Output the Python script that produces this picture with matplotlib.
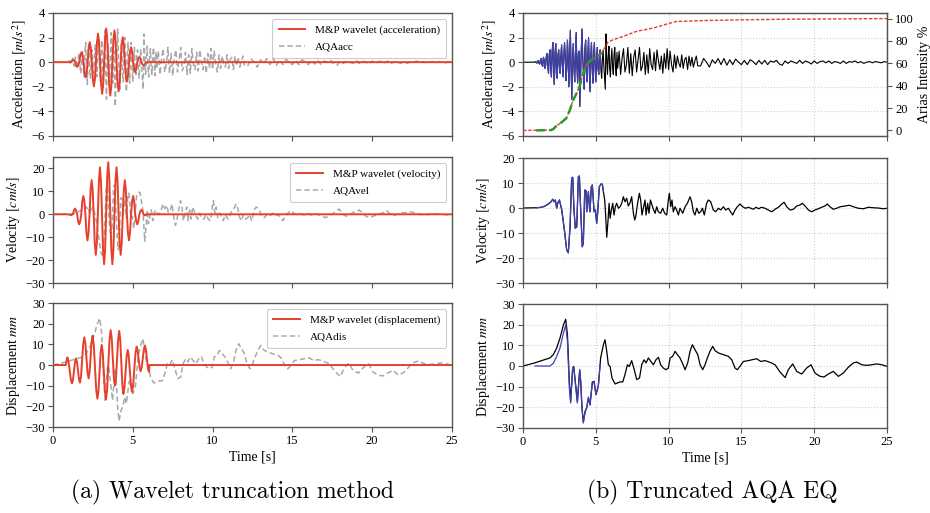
import matplotlib
matplotlib.use('Agg')
import matplotlib.pyplot as plt
import numpy as np

plt.rcParams['font.family'] = ['Liberation Serif', 'DejaVu Serif']
plt.rcParams['mathtext.fontset'] = 'stix'
plt.rcParams['font.size'] = 9
plt.rcParams['axes.unicode_minus'] = True

# ---------------- M&P wavelet ----------------
wav_acc_t = [0, 1.05, 1.14, 1.205, 1.27, 1.33, 1.39, 1.45, 1.51, 1.575, 1.645, 1.71, 1.78, 1.845, 1.91,
             1.975, 2.04, 2.105, 2.17, 2.235, 2.30, 2.365, 2.43, 2.495, 2.56, 2.625, 2.69, 2.755, 2.82,
             2.885, 2.95, 3.015, 3.08, 3.14, 3.205, 3.27, 3.33, 3.395, 3.46, 3.525, 3.59, 3.655, 3.72,
             3.785, 3.85, 3.915, 3.98, 4.045, 4.11, 4.175, 4.24, 4.305, 4.37, 4.435, 4.50, 4.565, 4.63,
             4.695, 4.76, 4.825, 4.89, 4.955, 5.02, 5.085, 5.15, 5.215, 5.28, 5.345, 5.41, 5.475, 5.54,
             5.605, 5.67, 5.75, 5.85, 25]
wav_acc = [0, 0, 0, 0.13, 0.19, 0.13, 0, -0.27, -0.38, -0.27, 0, 0.57, 0.81, 0.57, 0, -0.86, -1.22,
           -0.86, 0, 1.15, 1.63, 1.15, 0, -1.39, -1.97, -1.39, 0, 1.64, 2.32, 1.64, 0, -1.82, -2.57,
           -1.82, 0, 1.94, 2.74, 1.94, 0, -1.92, -2.71, -1.92, 0, 1.82, 2.58, 1.82, 0, -1.68, -2.37,
           -1.68, 0, 1.44, 2.03, 1.44, 0, -1.12, -1.58, -1.12, 0, 0.86, 1.22, 0.86, 0, -0.57, -0.81,
           -0.57, 0, 0.28, 0.40, 0.28, 0, -0.18, -0.26, -0.15, 0, 0]

wav_vel_t = [0, 0.95, 1.05, 1.12, 1.185, 1.25, 1.315, 1.38, 1.445, 1.51, 1.575, 1.64, 1.705, 1.77, 1.835,
             1.90, 1.965, 2.03, 2.095, 2.16, 2.225, 2.29, 2.355, 2.42, 2.485, 2.55, 2.615, 2.68, 2.745,
             2.81, 2.875, 2.94, 3.005, 3.07, 3.135, 3.20, 3.265, 3.33, 3.395, 3.46, 3.525, 3.59, 3.655,
             3.72, 3.785, 3.85, 3.915, 3.98, 4.045, 4.11, 4.175, 4.24, 4.305, 4.37, 4.435, 4.50, 4.565,
             4.63, 4.695, 4.76, 4.825, 4.89, 4.955, 5.02, 5.085, 5.15, 5.215, 5.28, 5.345, 5.41, 5.475,
             5.54, 5.605, 5.67, 5.73, 5.78, 5.85, 25]
wav_vel = [0, 0, -0.2, -0.4, -0.2, 0, 1.8, 2.5, 1.8, 0, -3.1, -4.4, -3.1, 0, 5.7, 8.0, 5.7, 0, -8.1,
           -11.4, -8.1, 0, 10.5, 14.9, 10.5, 0, -12.5, -17.7, -12.5, 0, 14.5, 20.5, 14.5, 0, -15.4,
           -21.8, -15.4, 0, 16.1, 22.7, 16.1, 0, -15.4, -21.8, -15.4, 0, 14.5, 20.5, 14.5, 0, -12.5,
           -17.7, -12.5, 0, 10.5, 14.9, 10.5, 0, -8.1, -11.4, -8.1, 0, 5.7, 8.0, 5.7, 0, -3.1, -4.4,
           -3.1, 0, 1.4, 2.0, 1.4, 0, -0.4, -0.5, 0, 0]

wav_dis_t = [0, 0.80, 0.85, 0.90, 0.97, 1.045, 1.118, 1.19, 1.253, 1.315, 1.378, 1.44, 1.503, 1.565,
             1.628, 1.69, 1.758, 1.825, 1.893, 1.96, 2.028, 2.095, 2.163, 2.23, 2.293, 2.355, 2.418,
             2.48, 2.555, 2.63, 2.705, 2.78, 2.848, 2.915, 2.983, 3.05, 3.118, 3.185, 3.253, 3.32,
             3.393, 3.465, 3.538, 3.61, 3.678, 3.745, 3.813, 3.88, 3.948, 4.015, 4.083, 4.15, 4.215,
             4.28, 4.345, 4.41, 4.478, 4.545, 4.613, 4.68, 4.748, 4.815, 4.883, 4.95, 5.023, 5.095,
             5.168, 5.24, 5.303, 5.365, 5.428, 5.49, 5.558, 5.625, 5.693, 5.76, 5.823, 5.885, 5.948,
             6.01, 6.05, 25]
wav_dis = [0, 0, 2.2, 3.7, 1.85, -2.6, -7.05, -8.9, -7.13, -2.85, 1.43, 3.2, 1.49, -2.65, -6.79, -8.5,
           -5.29, 2.45, 10.19, 13.4, 10.48, 3.45, -3.58, -6.5, -3.47, 3.85, 11.17, 14.2, 9.73, -1.05,
           -11.83, -16.3, -12.49, -3.3, 5.89, 9.7, 5.85, -3.45, -12.75, -16.6, -11.69, 0.15, 11.99,
           16.9, 12.96, 3.45, -6.06, -10, -6.12, 3.25, 12.62, 16.5, 12.03, 1.25, -9.53, -14, -10.88,
           -3.35, 4.18, 7.3, 4.33, -2.85, -10.03, -13, -9.79, -2.05, 5.69, 8.9, 7.16, 2.95, -1.26, -3,
           -1.18, 3.2, 7.58, 9.4, 7.54, 3.05, -1.44, -3.3, 0, 0]

# ---------------- AQA record ----------------
aqa_acc_t = np.round(np.concatenate([[0.0], np.arange(0.8, 6.5001, 0.05),
                                     np.arange(6.6, 12.0001, 0.1), np.arange(12.2, 25.0001, 0.2)]), 3)
aqa_acc = [0,
    0, 0.05, 0.0, -0.08, 0.1, 0.12, -0.1, -0.15, 0.2,
    0.3, -0.2, -0.35, 0.4, 0.2, -0.5, -0.3, 0.5,
    0.7, -0.4, -0.9, 0.6, 1.0, -0.5, -1.2, 0.9,
    1.6, -0.6, -1.8, 0.8, 1.5, -1.0, -1.3, 0.6,
    1.0, -0.4, -0.9, 0.5, 1.4, -0.3, -1.2, 0.4,
    1.6, 0.5, -1.5, -0.6, 1.8, 0.4, -2.0, 0.3,
    2.6, -0.5, -3.0, 0.2, 1.5, -0.5, -1.6, 0.8,
    2.4, -0.3, -1.7, 0.7, 0.9, -3.6, -1.2, 1.0,
    2.7, 0.4, -1.0, -2.2, 1.1, 1.8, -0.9, -1.6,
    0.6, 2.0, -0.5, -2.4, 0.4, 1.6, -0.6, -1.7,
    0.5, 1.6, -0.4, -1.6, 0.3, 1.2, -0.5, -1.0,
    0.4, 1.0, -0.6, -1.3, 0.2, 1.0, -0.3, -1.3,
    -2.2, 2.3, 0.3, -1.0, 0.4, 1.3, -0.5, -1.2,
    0.3, 1.1, -0.4, -1.0, 0.6, 1.2, -0.3, -1.1, 0.8, -0.5,
    0.9, -1.0, 0.3, 1.1, -0.8, -0.2, 1.2, -0.9, 0.7, -1.1,
    0.4, 1.0, -0.8, 0.2, 1.2, -0.7, -0.3, 0.8, -1.0, 0.6,
    -0.9, 1.1, -0.2, -0.6, 0.8, -0.7, 1.0, 0.1, -0.6, 0.5,
    -0.9, 0.7, -0.5, 1.1, -0.6, 0.9, -0.2, -0.8, 0.6, -0.5,
    0.5, -0.1, -0.4, 0.6, -0.5, 0.2, 0.4, -0.6, 0.5, -0.3,
    0.4, -0.4, 0.1, 0.5, -0.3,
    -0.3, 0.3, 0.0, -0.4, 0.2, -0.1, 0.3, -0.2, 0.3, -0.25,
    0.2, -0.2, 0.25, 0.0, -0.2, 0.15, -0.2, 0.2, 0.05, -0.2,
    0.15, -0.15, 0.15, -0.2, 0.1, 0.0, 0.15, -0.15, -0.25, 0.1,
    -0.1, 0.1, 0.0, -0.1, 0.15, -0.1, 0.1, 0.0, -0.15, 0.1,
    -0.1, 0.05, 0.1, -0.05, 0.1, -0.1, 0.05, 0.0, -0.1, 0.1,
    -0.1, 0.05, 0.0, 0.1, -0.05, 0.05, -0.1, 0.0, 0.05, -0.05,
    0.05, 0.0, -0.05, 0.05, 0.0]

aqa_vel_t = [0, 0.94, 1.28, 1.51, 1.74, 1.92, 2.04, 2.13, 2.22, 2.31, 2.38, 2.50, 2.66, 2.84, 3.00, 3.11,
             3.23, 3.34, 3.41, 3.50, 3.59, 3.69, 3.80, 3.87, 3.96, 4.07, 4.14, 4.24, 4.33, 4.37, 4.42,
             4.49, 4.56, 4.60, 4.69, 4.76, 4.88, 4.97, 5.06, 5.13, 5.24, 5.36, 5.45, 5.52, 5.61, 5.68,
             5.75, 5.84, 5.91, 5.98, 6.07, 6.16, 6.25, 6.34, 6.43, 6.55, 6.66, 6.78, 6.89, 7.00, 7.12,
             7.23, 7.35, 7.46, 7.58, 7.67, 7.74, 7.85, 7.99, 8.08, 8.17, 8.26, 8.38, 8.45, 8.56, 8.65,
             8.75, 8.86, 8.95, 9.07, 9.18, 9.29, 9.45, 9.59, 9.73, 9.87, 9.98, 10.05, 10.14, 10.23,
             10.32, 10.44, 10.55, 10.67, 10.78, 10.97, 11.13, 11.29, 11.47, 11.58, 11.70, 11.81, 11.93,
             12.07, 12.20, 12.32, 12.45, 12.61, 12.73, 12.89, 13.07, 13.23, 13.42, 13.58, 13.76, 13.92,
             14.10, 14.26, 14.40, 14.56, 14.72, 14.90, 15.09, 15.27, 15.48, 15.66, 15.82, 16.00, 16.19,
             16.37, 16.62, 16.85, 17.08, 17.31, 17.54, 17.77, 17.93, 18.11, 18.34, 18.57, 18.80, 19.02,
             19.18, 19.37, 19.60, 19.83, 20.05, 20.28, 20.51, 20.74, 20.90, 21.08, 21.31, 21.54, 21.77,
             22.12, 22.41, 22.69, 23.03, 23.37, 23.72, 24.06, 24.40, 24.74, 25.00]
aqa_vel = [0, 0.1, 0.3, 0.8, 1.6, 2.5, 3.5, 2.5, 3.2, -0.1, 1.9, 3.2, -0.8, -8.8, -16.8, -17.9,
           -7.5, 11.9, 12.3, -0.8, -8.1, -7.5, 12.5, 12.8, -0.8, -15.5, -14.1, 7.2, 6.8, -1.5, 1.9,
           6.5, 0.5, -1.5, 8.5, 9.2, -1.5, -0.8, -6.1, -1.5, 8.5, 9.6, 9.5, 6.5, 3.2, -3.5,
           -11.7, -4.8, 1.9, -4.1, -0.8, 1.9, -2.8, 0.5, 1.9, -0.1, 0.5, 1.9, 4.5, 2.5, 3.9,
           0.8, 2.1, 4.5, -2.1, -4.8, -3.5, 1.2, 5.9, 3.2, -2.8, -0.1, 3.2, -2.8, 1.9, -2.1,
           3.2, 1.2, -0.5, -2.1, 0.5, -1.5, -2.1, -0.1, -2.1, -2.8, 3.2, 5.9, 0.5, 3.2,
           -1.5, 0.5, -0.8, -2.8, -0.1, -2.1, 0.5, 1.9, 4.5, 2.5, -1.5, -2.8, -0.1,
           -2.1, -1.5, -0.1, -2.8, 1.9, 3.2, 2.5, -0.8, -1.5, -0.1, -0.8, 0.5, -0.8,
           -0.1, -1.5, -2.8, -0.8, 0.5, 1.6, 0.5, -0.1, 0.3, -0.1, -0.5, 0.3, -0.3,
           0.3, -0.1, -0.8, -1.5, -0.5, 0.3, 1.6, 2.3, 0.5, -0.8, -0.5, 0.8, 1.2,
           1.9, 0.8, -0.8, -1.5, -0.8, -0.3, 0.3, 0.8, 1.6, 0.5, -0.5, -0.1, 0.5,
           0.8, 1.1, 0.5, -0.1, -0.3, 0.3, 0.1, 0.0, -0.3, -0.1]

aqa_dis_t = [0, 0.71, 1.28, 1.85, 2.08, 2.31, 2.54, 2.77, 2.93, 3.05, 3.18, 3.27, 3.41, 3.48, 3.59, 3.73,
             3.89, 3.96, 4.05, 4.14, 4.26, 4.37, 4.49, 4.60, 4.76, 4.88, 5.01, 5.17, 5.33, 5.52, 5.63,
             5.75, 5.86, 5.98, 6.11, 6.32, 6.66, 6.85, 7.00, 7.17, 7.30, 7.46, 7.62, 7.81, 8.00, 8.15,
             8.31, 8.45, 8.61, 8.77, 8.95, 9.13, 9.30, 9.45, 9.64, 9.82, 9.98, 10.10, 10.28, 10.44,
             10.60, 10.78, 10.94, 11.13, 11.31, 11.47, 11.63, 11.81, 12.00, 12.16, 12.34, 12.50, 12.66,
             12.84, 13.03, 13.19, 13.42, 13.76, 14.10, 14.33, 14.56, 14.72, 14.90, 15.13, 15.48, 15.77,
             16.05, 16.32, 16.62, 16.96, 17.31, 17.65, 18.00, 18.22, 18.52, 18.80, 19.14, 19.48, 19.78,
             20.05, 20.40, 20.67, 20.97, 21.31, 21.66, 22.00, 22.34, 22.69, 22.92, 23.26, 23.60, 23.95,
             24.30, 24.64, 25.00]
aqa_dis = [0, 1.3, 2.6, 3.9, 5.5, 8.7, 13.5, 19.8, 22.6, 15.2, -7.4, -17.1, -1.0, -0.2, -7.4, -17.1,
           -1.8, -7.4, -20.3, -27.1, -21.9, -20.3, -15.5, -18.7, -8.2, -7.4, -13.9, -9.8, 3.9, 10.3, 12.7,
           7.1, 0.6, -0.2, -5.8, -8.7, -7.7, -7.7, -4.2, 0.6, -0.2, 2.6, -1.3, -6.6, -5.8, 0.6,
           3.0, 1.5, 3.9, 2.3, 0.6, 3.0, 4.2, 0.6, -1.0, -1.8, -1.0, 3.9, 4.7, 7.1,
           5.5, 3.9, 1.5, -1.8, 1.5, 7.1, 10.3, 7.9, 5.5, 0.6, -1.8, 0.6, 3.9,
           7.1, 9.5, 7.4, 6.3, 5.5, 4.7, 3.1, -1.0, -1.8, -0.2, 2.2, 2.6, 3.1,
           3.5, 2.2, 2.6, 1.8, 0.6, -2.9, -5.6, -1.8, 1.0, -2.6, -3.9, -1.0, 0.6,
           -3.4, -5.0, -5.3, -3.9, -2.6, -5.0, -3.4, -0.6, 1.5, 1.9, 0.6, 0.3, 0.6,
           1.0, 0.6, -0.2]

trunc_dis_t = [0.82, 1.85, 2.08, 2.31, 2.54, 2.77, 2.93, 3.05, 3.18, 3.27, 3.41, 3.48, 3.59, 3.73, 3.89,
               3.96, 4.05, 4.14, 4.26, 4.37, 4.49, 4.60, 4.76, 4.88, 5.01, 5.17, 5.29]
trunc_dis = [0, 0, 1.3, 4.7, 8.7, 15.8, 19.8, 12.0, -10.6, -17.9, -1.0, -0.5, -8.2, -17.9, -2.1,
             -7.4, -20.3, -27.6, -22.5, -20.3, -15.0, -19.0, -7.5, -8.0, -13.5, -9.8, 0.5]

arias_t = [0, 1.9, 2.06, 2.29, 2.63, 2.98, 3.21, 3.44, 3.67, 3.9, 4.12, 4.35, 4.58, 4.92, 5.38, 5.61,
           5.84, 6.18, 6.87, 7.79, 8.93, 9.85, 10.53, 12.36, 14.65, 18.1, 25]
arias = [0, 0.3, 1, 4, 7, 11, 18, 27, 33, 40, 50.6, 58, 62, 65, 68.7, 74, 79, 81, 84, 88.6, 91.5, 95,
         97.4, 98.2, 98.8, 99.4, 100]
arias_trunc_t = [0.9, 1.9, 2.06, 2.29, 2.63, 2.98, 3.21, 3.44, 3.67, 3.9, 4.12, 4.35, 4.58, 4.92, 5.38]
arias_trunc = [0, 0.3, 1, 4, 7, 11, 18, 27, 33, 40, 50.6, 58, 62, 65, 68.7]

acc_t_arr = np.array(aqa_acc_t); acc_arr = np.array(aqa_acc)
vel_t_arr = np.array(aqa_vel_t); vel_arr = np.array(aqa_vel)
m_acc = (acc_t_arr >= 0.9) & (acc_t_arr <= 5.35)
m_vel = (vel_t_arr >= 0.9) & (vel_t_arr <= 5.55)

RED = '#e6402c'
GRAY = '#a8a8a8'
BLUE = '#4040b4'
SPINE = '#555555'
TICK_FS = 9
LAB_FS = 10

fig = plt.figure(figsize=(9.3, 5.13), dpi=100)

Lx, Lw = 0.057, 0.429
Rx, Rw = 0.5624, 0.3914
rowsL = [(0.7349, 0.2398), (0.4483, 0.2456), (0.1676, 0.2417)]
rowsR = [(0.7349, 0.2398), (0.4483, 0.2437), (0.1657, 0.2417)]

def style(ax, grid=False):
    for s in ax.spines.values():
        s.set_color(SPINE)
        s.set_linewidth(1.0)
    ax.tick_params(direction='out', length=3.5, width=0.8, color=SPINE, labelsize=TICK_FS, pad=2.5)
    ax.set_xlim(0, 25)
    ax.set_xticks([0, 5, 10, 15, 20, 25])
    if grid:
        ax.grid(True, color='#d0d0d0', linestyle=':', linewidth=0.8)

# ---- Left column ----
axL = [fig.add_axes([Lx, b, Lw, h]) for b, h in rowsL]
series_left = [
    (wav_acc_t, wav_acc, 'M&P wavelet (acceleration)', aqa_acc_t, aqa_acc, 'AQAacc',
     (-6, 4), [-6, -4, -2, 0, 2, 4], r'Acceleration $[m/s^2]$'),
    (wav_vel_t, wav_vel, 'M&P wavelet (velocity)', aqa_vel_t, aqa_vel, 'AQAvel',
     (-30, 25), [-30, -20, -10, 0, 10, 20], r'Velocity $[cm/s]$'),
    (wav_dis_t, wav_dis, 'M&P wavelet (displacement)', aqa_dis_t, aqa_dis, 'AQAdis',
     (-30, 30), [-30, -20, -10, 0, 10, 20, 30], r'Displacement $mm$'),
]
for ax, (wt, wv, wl, at, av, al, yl, yt, ylab) in zip(axL, series_left):
    style(ax)
    ax.plot(wt, wv, color=RED, lw=1.4, label=wl, zorder=3)
    ax.plot(at, av, color=GRAY, lw=1.1, ls=(0, (3.5, 2)), label=al, zorder=2)
    ax.set_ylim(*yl)
    ax.set_yticks(yt)
    ax.set_ylabel(ylab, fontsize=LAB_FS, labelpad=2)
    leg = ax.legend(loc='upper right', fontsize=8, framealpha=1, fancybox=True,
                    handlelength=2.4, borderpad=0.55, labelspacing=0.65, handletextpad=0.9)
    leg.get_frame().set_edgecolor('#cccccc')
    leg.get_frame().set_linewidth(0.8)
axL[0].tick_params(labelbottom=False)
axL[1].tick_params(labelbottom=False)
axL[2].set_xlabel('Time [s]', fontsize=LAB_FS, labelpad=2)

# ---- Right column ----
axR = [fig.add_axes([Rx, b, Rw, h]) for b, h in rowsR]
for ax in axR:
    style(ax, grid=True)

axR[0].plot(acc_t_arr, acc_arr, color='black', lw=0.8, zorder=2)
axR[0].plot(acc_t_arr[m_acc], acc_arr[m_acc], color=BLUE, lw=0.8, zorder=3)
axR[0].set_ylim(-6, 4)
axR[0].set_yticks([-6, -4, -2, 0, 2, 4])
axR[0].set_ylabel(r'Acceleration $[m/s^2]$', fontsize=LAB_FS, labelpad=2)
axR[0].tick_params(labelbottom=False)

tw = axR[0].twinx()
tw.plot(arias_t, arias, color=RED, lw=1.0, ls=(0, (2.5, 1.2)), zorder=3)
tw.plot(arias_trunc_t, arias_trunc, color='#2a9a2a', lw=1.8, ls=(0, (3.5, 1.8)), zorder=4)
tw.set_ylim(-5, 105)
tw.set_yticks([0, 20, 40, 60, 80, 100])
tw.set_ylabel('Arias Intensity %', fontsize=LAB_FS, labelpad=3)
for s in tw.spines.values():
    s.set_color(SPINE)
tw.tick_params(direction='out', length=3.5, width=0.8, color=SPINE, labelsize=TICK_FS, pad=2.5)

axR[1].plot(vel_t_arr, vel_arr, color='black', lw=0.9, zorder=2)
axR[1].plot(vel_t_arr[m_vel], vel_arr[m_vel], color=BLUE, lw=0.9, zorder=3)
axR[1].set_ylim(-30, 20)
axR[1].set_yticks([-30, -20, -10, 0, 10, 20])
axR[1].set_ylabel(r'Velocity $[cm/s]$', fontsize=LAB_FS, labelpad=2)
axR[1].tick_params(labelbottom=False)

axR[2].plot(aqa_dis_t, aqa_dis, color='black', lw=0.9, zorder=2)
axR[2].plot(trunc_dis_t, trunc_dis, color=BLUE, lw=0.9, zorder=3)
axR[2].set_ylim(-30, 30)
axR[2].set_yticks([-30, -20, -10, 0, 10, 20, 30])
axR[2].set_ylabel(r'Displacement $mm$', fontsize=LAB_FS, labelpad=2)
axR[2].set_xlabel('Time [s]', fontsize=LAB_FS, labelpad=2)

fig.text(232 / 930, 1 - 492 / 513, '(a) Wavelet truncation method', ha='center', va='center',
         fontsize=17, family='cmr10')
fig.text(712 / 930, 1 - 492 / 513, '(b) Truncated AQA EQ', ha='center', va='center',
         fontsize=17, family='cmr10')

fig.savefig('out.png', dpi=100)
